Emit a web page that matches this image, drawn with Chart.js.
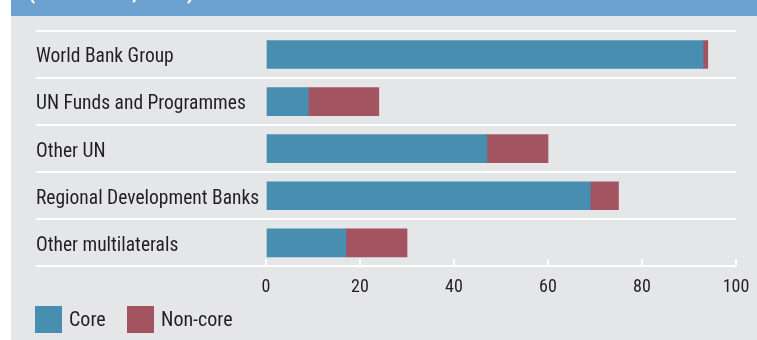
<!DOCTYPE html>
<html>
<head>
<meta charset="utf-8">
<script src="https://cdn.jsdelivr.net/npm/chart.js@4/dist/chart.umd.min.js"></script>
<style>
  html, body { margin: 0; padding: 0; background: #fff; }
  #panel { position: absolute; left: 11px; top: 0; width: 746px; height: 340px; background: #e5e6e8; }
  #header { position: absolute; left: 11px; top: 0; width: 746px; height: 16px; background: #6aa1d1; overflow: hidden; }
  #header span { position: absolute; left: 17px; top: -21px; line-height: 24px; color: #fff; font: bold 22px 'Roboto Condensed', sans-serif; white-space: nowrap; }
  #wrap { position: absolute; left: 0; top: 0; width: 757px; height: 315px; }
  .leg { position: absolute; top: 306px; height: 27px; font: 20px 'Roboto Condensed', sans-serif; color: #231f20; line-height: 27px; }
  .leg i { position: absolute; left: 0; top: 0; width: 27px; height: 27px; }
  .leg span { position: absolute; white-space: nowrap; }
</style>
</head>
<body>
<div id="panel"></div>
<div id="header"><span>(USD billion, 2012)</span></div>
<div id="wrap"><canvas id="chart"></canvas></div>
<div id="legend"></div>
<script>
const categories = ['World Bank Group', 'UN Funds and Programmes', 'Other UN', 'Regional Development Banks', 'Other multilaterals']
const coreValues = [93, 9, 47, 69, 17]
const nonCoreValues = [1, 15, 13, 6, 13]
const seriesNames = ['Core', 'Non-core']
const seriesColors = ['#478eb0', '#a35461']
const xMin = 0
const xMax = 100
const xStep = 20

const fontName = "'Roboto Condensed', sans-serif"

// legend drawn as plain html so it can sit flush left like the original
const legend = document.getElementById('legend')
const legendLeft = [35, 127]
seriesNames.forEach((name, i) => {
  const el = document.createElement('div')
  el.className = 'leg'
  el.style.left = legendLeft[i] + 'px'
  el.innerHTML = '<i style="background:' + seriesColors[i] + '"></i><span style="left:34px">' + name + '</span>'
  legend.appendChild(el)
})

new Chart(document.getElementById('chart'), {
  type: 'bar',
  data: {
    labels: categories,
    datasets: [
      { label: seriesNames[0], data: coreValues, backgroundColor: seriesColors[0], barThickness: 28 },
      { label: seriesNames[1], data: nonCoreValues, backgroundColor: seriesColors[1], barThickness: 28 },
    ]
  },
  options: {
    indexAxis: 'y',
    responsive: true,
    maintainAspectRatio: false,
    animation: false,
    layout: { padding: { left: 36, top: 31, right: 21, bottom: 0 } },
    plugins: {
      legend: { display: false },
      tooltip: { enabled: false }
    },
    scales: {
      x: {
        stacked: true,
        min: xMin,
        max: xMax,
        border: { display: false },
        grid: { drawOnChartArea: false, color: '#fff', lineWidth: 2, tickLength: -7 },
        ticks: { stepSize: xStep, padding: 17, color: '#231f20', font: { family: fontName, size: 18 } },
        // tick padding would otherwise eat into the right side, the layout padding handles it
        afterFit: (scale) => { scale.paddingRight = 0 }
      },
      y: {
        stacked: true,
        border: { display: false },
        grid: { color: '#fff', lineWidth: 2, tickLength: 230 },
        ticks: { crossAlign: 'far', padding: 0, labelOffset: 3, color: '#231f20', font: { family: fontName, size: 19.5 } },
        afterFit: (scale) => { scale.width = 230 }
      }
    }
  }
})
</script>
</body>
</html>
